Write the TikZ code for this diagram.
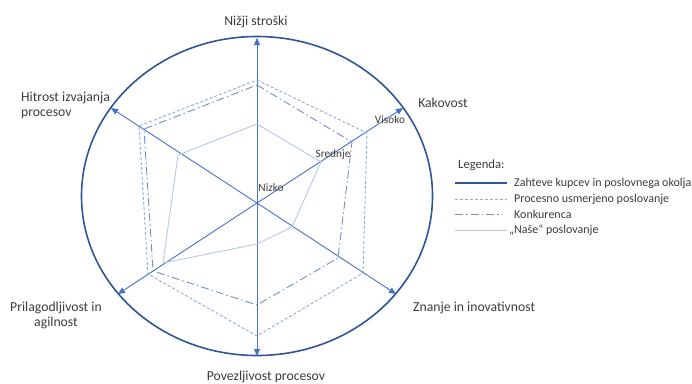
\documentclass[tikz,border=0pt]{standalone}
\usepackage{fontspec}
\setmainfont{Carlito}
\usetikzlibrary{arrows.meta}

\definecolor{rimblue}{RGB}{47,85,151}
\definecolor{axisblue}{RGB}{68,114,196}
\definecolor{procblue}{RGB}{143,170,220}
\definecolor{konkblue}{RGB}{110,145,205}
\definecolor{nasblue}{RGB}{180,199,231}
\definecolor{txtgray}{RGB}{60,60,60}

\tikzset{
  rim/.style={draw=rimblue, line width=1.6pt},
  axisline/.style={draw=axisblue, line width=0.9pt, -{Triangle[length=7pt,width=6pt]}},
  proc/.style={draw=procblue, line width=0.9pt, dash pattern=on 3pt off 2pt},
  konk/.style={draw=konkblue, line width=0.9pt, dash pattern=on 8pt off 3pt on 1.5pt off 3pt},
  nas/.style={draw=nasblue, line width=0.9pt},
  axislabel/.style={inner sep=0pt, text=txtgray, font=\fontsize{13.7}{15}\selectfont},
  scalelabel/.style={inner sep=0pt, text=txtgray, font=\fontsize{11.3}{13}\selectfont},
  legtext/.style={inner sep=0pt, text=txtgray, anchor=west, font=\fontsize{12}{14}\selectfont},
}

\begin{document}
\begin{tikzpicture}[x=1pt, y=-1pt]
  \useasboundingbox (0,0) rectangle (692,383);

  % centre of the spider chart and the tips of its six axes
  \coordinate (C) at (257,203);
  \coordinate (tTop) at (257,38);
  \coordinate (tKak) at (403,108);
  \coordinate (tZna) at (396,294);
  \coordinate (tBot) at (257,356);
  \coordinate (tPri) at (118,294);
  \coordinate (tHit) at (111,108);

  % outer boundary (customer and business requirements)
  \draw[rim] (257,196) ellipse [x radius=175.5, y radius=159.5];

  % axes
  \foreach \t in {tTop,tKak,tZna,tBot,tPri,tHit}
    \draw[axisline] (C) -- (\t);

  % process oriented business
  \coordinate (p1) at (257,80);
  \coordinate (p2) at (367,133);
  \coordinate (p3) at (363,273);
  \coordinate (p4) at (257,336);
  \coordinate (p5) at (148,274);
  \coordinate (p6) at (139,126);
  \draw[proc] (p1) -- (p2) -- (p3) -- (p4) -- (p5) -- (p6) -- cycle;

  % competition
  \coordinate (k1) at (257,85);
  \coordinate (k2) at (352,142);
  \coordinate (k3) at (338,258);
  \coordinate (k4) at (257,305);
  \coordinate (k5) at (153,271);
  \coordinate (k6) at (144,129);
  \draw[konk] (k1) -- (k2) -- (k3) -- (k4) -- (k5) -- (k6) -- cycle;

  % our business
  \coordinate (n1) at (257,124);
  \coordinate (n2) at (321,162);
  \coordinate (n3) at (292,227);
  \coordinate (n4) at (257,244);
  \coordinate (n5) at (163,263);
  \coordinate (n6) at (178,155);
  \draw[nas] (n1) -- (n2) -- (n3) -- (n4) -- (n5) -- (n6) -- cycle;

  % axis labels
  \node[axislabel] (lTop) at (256,22) {Nižji stroški};
  \node[axislabel] (lKak) at (443,103) {Kakovost};
  \node[axislabel, align=left, anchor=west] (lHit) at (21,105.5) {Hitrost izvajanja\\procesov};
  \node[axislabel, align=center] (lPri) at (56,315.5) {Prilagodljivost in\\agilnost};
  \node[axislabel, anchor=west] (lZna) at (413,308) {Znanje in inovativnost};
  \node[axislabel] (lBot) at (266,377) {Povezljivost procesov};

  % scale labels
  \node[scalelabel] (sLow) at (271,188) {Nizko};
  \node[scalelabel] (sMid) at (333,155) {Srednje};
  \node[scalelabel] (sHigh) at (390,120) {Visoko};

  % legend
  \node[legtext, font=\fontsize{12.6}{14}\selectfont] (legTitle) at (458,165) {Legenda:};
  \node[legtext] (leg1) at (514,183) {Zahteve kupcev in poslovnega okolja};
  \node[legtext] (leg2) at (514,199) {Procesno usmerjeno poslovanje};
  \node[legtext] (leg3) at (514,214) {Konkurenca};
  \node[legtext] (leg4) at (509,230) {„Naše“ poslovanje};
  \coordinate (a1) at (455,183); \coordinate (b1) at (507,183);
  \coordinate (a2) at (455,199); \coordinate (b2) at (507,199);
  \coordinate (a3) at (455,214); \coordinate (b3) at (502,214);
  \coordinate (a4) at (455,230); \coordinate (b4) at (507,230);
  \draw[rimblue, line width=1.1pt] (a1) -- (b1);
  \draw[proc] (a2) -- (b2);
  \draw[konk] (a3) -- (b3);
  \draw[nas] (a4) -- (b4);
\end{tikzpicture}
\end{document}
